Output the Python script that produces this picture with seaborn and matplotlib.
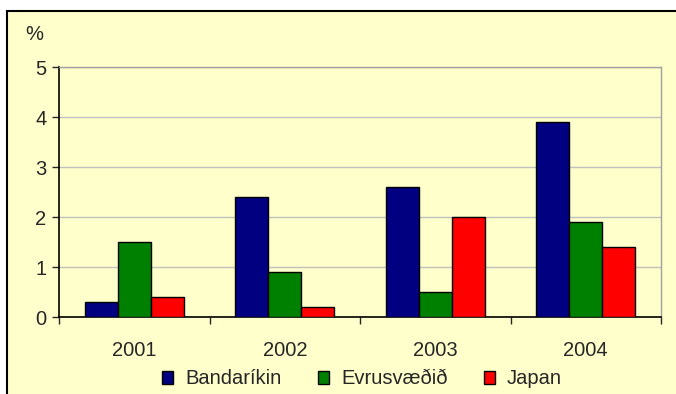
import pandas as pd
import numpy as np
import matplotlib
matplotlib.use('Agg')
import matplotlib.pyplot as plt
from matplotlib.patches import Rectangle
import seaborn as sns

# data
years = ['2001', '2002', '2003', '2004']
bandarikin = [0.3, 2.4, 2.6, 3.9]
evrusvaedid = [1.5, 0.9, 0.5, 1.9]
japan = [0.4, 0.2, 2.0, 1.4]
series_names = ['Bandaríkin', 'Evrusvæðið', 'Japan']
colors = ['#000080', '#008000', '#FF0000']

df = pd.DataFrame({
    'year': years * 3,
    'value': bandarikin + evrusvaedid + japan,
    'series': [s for s in series_names for _ in years],
})

sns.set_style('white')
plt.rcParams['font.family'] = ['Liberation Sans', 'DejaVu Sans']

bg = '#FFFFCC'
fs = 14.5
fig = plt.figure(figsize=(6.76, 3.94), dpi=100)
fig.patch.set_facecolor('white')
# the yellow framed chart area
fig.patches.append(Rectangle((7 / 676, -0.01), 1.0, 1 - 10.5 / 394 + 0.01,
                             transform=fig.transFigure, facecolor=bg,
                             edgecolor='black', linewidth=1.5, zorder=-1))

ax = fig.add_axes([59 / 676, 1 - 317.3 / 394, 602 / 676, 250 / 394])
ax.set_facecolor(bg)

sns.barplot(data=df, x='year', y='value', hue='series', palette=colors,
            width=0.66, edgecolor='black', linewidth=1, saturation=1,
            errorbar=None, ax=ax, zorder=3)

ax.set_ylim(0, 5)
ax.set_xlim(-0.5, 3.5)
ax.set_yticks(range(6))
ax.yaxis.grid(True, color='#C0C0C0', linewidth=1, zorder=0)
ax.set_axisbelow(True)
ax.set_xlabel('')
ax.set_ylabel('')

for side in ['top', 'right']:
    ax.spines[side].set_color('#A0A0A0')
    ax.spines[side].set_linewidth(1)
for side in ['left', 'bottom']:
    ax.spines[side].set_color('black')
    ax.spines[side].set_linewidth(1.2)

ax.tick_params(axis='y', which='major', length=5, width=1, direction='out',
               labelsize=fs, pad=4, left=True)
ax.tick_params(axis='x', which='major', length=0, labelsize=fs, pad=17)
ax.set_xticks(np.arange(-0.5, 4, 1), minor=True)
ax.tick_params(axis='x', which='minor', length=5, width=1, direction='out', bottom=True)

fig.text(34 / 676, 1 - 35 / 394, '%', fontsize=fs, ha='center', va='center')

handles, labels = ax.get_legend_handles_labels()
ax.get_legend().remove()
fig.legend(handles, labels, loc='center', bbox_to_anchor=(362 / 676, 1 - 379 / 394),
           ncol=3, frameon=False, fontsize=fs, handlelength=0.55, handleheight=0.6,
           handletextpad=0.6, columnspacing=1.8, borderpad=0)

fig.savefig('out.png', dpi=100, facecolor='white')
